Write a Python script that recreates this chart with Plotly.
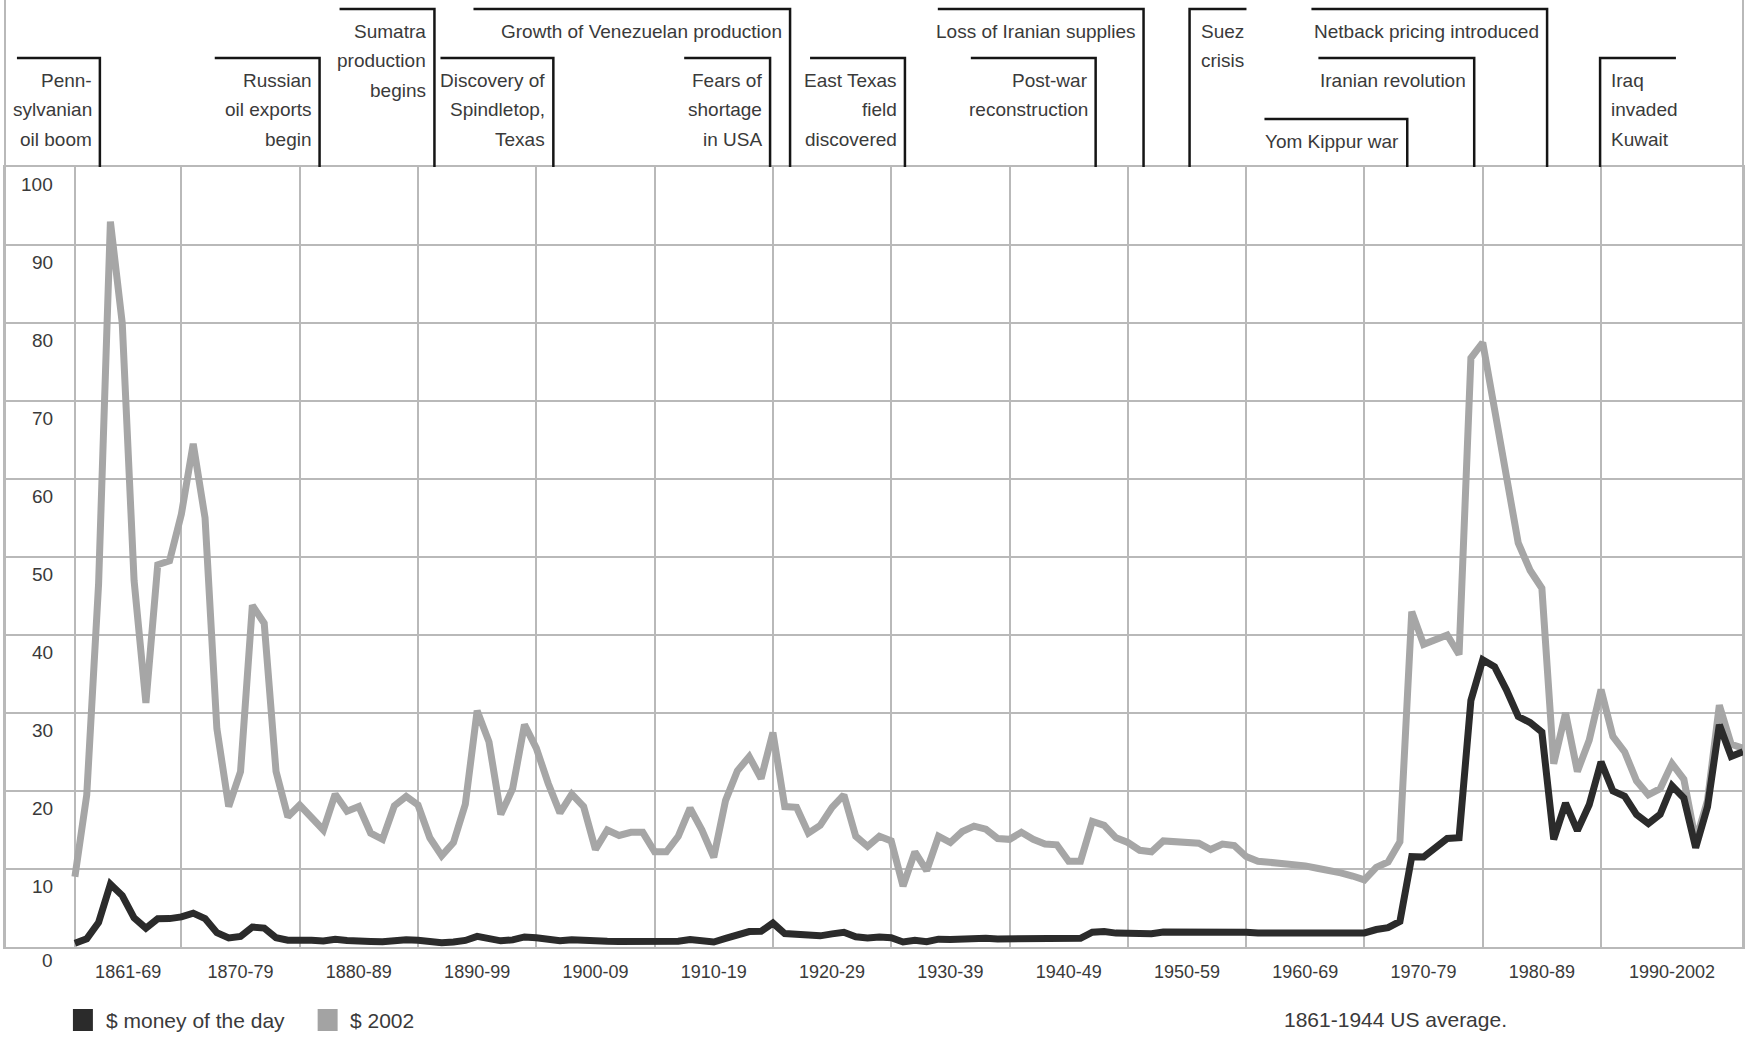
import plotly.graph_objects as go

# ---------------- data ----------------
years = list(range(1861, 2003))

money_of_day = [
    0.49, 1.05, 3.15, 8.06, 6.59, 3.74, 2.41, 3.63, 3.64,
    3.86, 4.34, 3.64, 1.83, 1.17, 1.35, 2.56, 2.42, 1.19, 0.86,
    0.95, 0.86, 0.78, 1.00, 0.84, 0.88, 0.71, 0.67, 0.88, 0.94,
    0.87, 0.67, 0.56, 0.64, 0.84, 1.36, 1.18, 0.79, 0.91, 1.29,
    1.19, 0.96, 0.80, 0.94, 0.86, 0.62, 0.73, 0.72, 0.72, 0.70,
    0.61, 0.61, 0.74, 0.95, 0.81, 0.64, 1.10, 1.56, 1.98, 2.01,
    3.07, 1.73, 1.61, 1.34, 1.43, 1.68, 1.88, 1.30, 1.17, 1.27,
    1.19, 0.65, 0.87, 0.67, 1.00, 0.97, 1.09, 1.18, 1.13, 1.02,
    1.02, 1.14, 1.19, 1.20, 1.21, 1.05, 1.12, 1.90, 1.99, 1.78,
    1.71, 1.71, 1.71, 1.93, 1.93, 1.93, 1.93, 1.90, 2.08, 2.08,
    1.90, 1.80, 1.80, 1.80, 1.80, 1.80, 1.80, 1.80, 1.80, 1.80,
    1.80, 2.24, 2.48, 3.29, 11.58, 11.53, 12.80, 13.92, 14.02, 31.61,
    36.83, 35.93, 32.97, 29.55, 28.78, 27.56, 13.80, 18.44, 14.92, 18.23,
    23.73, 20.00, 19.32, 16.97, 15.82, 17.02, 20.67, 19.09, 12.72, 17.97,
    28.50, 24.44, 25.02,
]

dollars_2002 = [
    9.0, 19.5, 46.5, 93.0, 80.0, 47.0, 31.3, 49.0, 49.5,
    55.5, 64.5, 55.0, 28.0, 18.0, 22.5, 43.8, 41.5, 22.5, 16.7,
    18.2, 16.6, 15.0, 19.6, 17.4, 18.0, 14.6, 13.8, 18.1, 19.3,
    18.2, 14.0, 11.7, 13.4, 18.3, 30.3, 26.3, 17.0, 20.3, 28.5,
    25.5, 21.0, 17.2, 19.6, 18.0, 12.5, 15.0, 14.3, 14.7, 14.7,
    12.2, 12.2, 14.2, 17.8, 15.0, 11.5, 18.8, 22.6, 24.4, 21.6,
    27.5, 18.0, 17.9, 14.6, 15.6, 17.9, 19.5, 14.2, 12.9, 14.2,
    13.6, 7.8, 12.2, 9.8, 14.2, 13.4, 14.8, 15.5, 15.1, 13.9,
    13.8, 14.7, 13.8, 13.2, 13.1, 11.0, 11.0, 16.1, 15.6, 14.0,
    13.4, 12.4, 12.2, 13.6, 13.5, 13.5, 13.3, 12.5, 13.2, 13.0,
    11.6, 11.0, 10.9, 10.7, 10.6, 10.4, 10.1, 9.9, 9.5, 9.1,
    8.6, 10.2, 10.9, 13.5, 43.0, 38.8, 39.5, 40.0, 37.5, 75.5,
    77.5, 69.0, 59.5, 51.8, 48.3, 46.0, 23.5, 30.0, 22.5, 26.5,
    33.0, 27.0, 25.0, 21.3, 19.5, 20.3, 23.5, 21.5, 13.6, 18.8,
    31.0, 26.0, 25.5,
]

decade_bounds = [1861, 1870, 1880, 1890, 1900, 1910, 1920, 1930, 1940,
                 1950, 1960, 1970, 1980, 1990]
decade_labels = ["1861-69", "1870-79", "1880-89", "1890-99", "1900-09",
                 "1910-19", "1920-29", "1930-39", "1940-49", "1950-59",
                 "1960-69", "1970-79", "1980-89", "1990-2002"]
decade_mid = [1865.5, 1875, 1885, 1895, 1905, 1915, 1925, 1935, 1945,
              1955, 1965, 1975, 1985, 1996]
y_ticks = [0, 10, 20, 30, 40, 50, 60, 70, 80, 90, 100]

# events: text lines, arm start, arm end (years), side of the drop, level
event_lines = [
    ["Penn-", "sylvanian", "oil boom"],
    ["Russian", "oil exports", "begin"],
    ["Sumatra", "production", "begins"],
    ["Discovery of", "Spindletop,", "Texas"],
    ["Growth of Venezuelan production"],
    ["Fears of", "shortage", "in USA"],
    ["East Texas", "field", "discovered"],
    ["Loss of Iranian supplies"],
    ["Post-war", "reconstruction"],
    ["Suez", "crisis"],
    ["Netback pricing introduced"],
    ["Iranian revolution"],
    ["Yom Kippur war"],
    ["Iraq", "invaded", "Kuwait"],
]
event_x0 = [1856.10, 1872.82, 1883.37, 1891.90, 1894.69, 1912.50, 1923.14,
            1933.94, 1936.73, 1955.22, 1965.52, 1966.11, 1961.55, 1989.92]
event_x1 = [1863.11, 1881.68, 1891.39, 1901.44, 1921.45, 1919.76, 1931.16,
            1951.33, 1947.28, 1960.03, 1985.44, 1979.28, 1973.62, 1996.33]
event_side = ["r", "r", "r", "r", "r", "r", "r", "r", "r", "l", "r", "r", "r", "l"]
event_level = ["B", "B", "A", "B", "A", "B", "B", "A", "B", "A", "A", "B", "C", "B"]

# ---------------- figure ----------------
W, H = 1747, 1037
ML, MR, MT, MB = 5, 2, 167, 90
PW, PH = W - ML - MR, H - MT - MB
FONT = "Liberation Sans, Arial, Helvetica, sans-serif"
TXT = "#3a3a3a"
GRID = "#b9b9b9"


def py(pix):
    """pixel row -> paper y"""
    return (H - MB - pix) / PH


def px(pix):
    return (pix - ML) / PW


level_y = {"A": py(9), "B": py(58), "C": py(119)}

fig = go.Figure()
fig.add_trace(go.Scatter(x=years, y=dollars_2002, mode="lines", name="$ 2002",
                         line=dict(color="#a6a6a6", width=7), showlegend=False))
fig.add_trace(go.Scatter(x=years, y=money_of_day, mode="lines", name="$ money of the day",
                         line=dict(color="#2b2b2b", width=7), showlegend=False))

shapes = []
annotations = []

# frame extension above plot (left and right borders)
for xp in (0, 1):
    shapes.append(dict(type="line", xref="paper", yref="paper", x0=xp, x1=xp,
                       y0=0, y1=py(0), line=dict(color=GRID, width=2), layer="below"))

# event brackets
for lines, x0, x1, side, lv in zip(event_lines, event_x0, event_x1, event_side, event_level):
    yl = level_y[lv]
    pivot = x1 if side == "r" else x0
    other = x0 if side == "r" else x1
    shapes.append(dict(type="path", xref="x", yref="paper",
                       path=f"M{other},{yl} L{pivot},{yl} L{pivot},1",
                       line=dict(color="#151515", width=2.5)))
    for i, t in enumerate(lines):
        annotations.append(dict(
            x=pivot, y=yl, xref="x", yref="paper", text=t, showarrow=False,
            xanchor="right" if side == "r" else "left", yanchor="middle",
            xshift=-6 if side == "r" else 9, yshift=-(22 + i * 29.5),
            font=dict(family=FONT, size=19, color=TXT)))

# y tick labels (placed just below each grid line)
for v in y_ticks:
    annotations.append(dict(
        x=px(55), y=v, xref="paper", yref="y", text=str(v), showarrow=False,
        xanchor="right", yanchor="middle", yshift=-13 if v == 0 else -17,
        font=dict(family=FONT, size=19, color=TXT)))

# legend
shapes.append(dict(type="rect", xref="paper", yref="paper",
                   x0=px(73), x1=px(93), y0=py(1031), y1=py(1009),
                   fillcolor="#2b2b2b", line=dict(width=0)))
shapes.append(dict(type="rect", xref="paper", yref="paper",
                   x0=px(318), x1=px(338), y0=py(1031), y1=py(1009),
                   fillcolor="#a3a3a3", line=dict(width=0)))
annotations.append(dict(x=px(104), y=py(1020), xref="paper", yref="paper",
                        text="$ money of the day", showarrow=False,
                        xanchor="left", yanchor="middle",
                        font=dict(family=FONT, size=21, color=TXT)))
annotations.append(dict(x=px(348), y=py(1020), xref="paper", yref="paper",
                        text="$ 2002", showarrow=False,
                        xanchor="left", yanchor="middle",
                        font=dict(family=FONT, size=21, color=TXT)))
annotations.append(dict(x=px(1283), y=py(1019), xref="paper", yref="paper",
                        text="1861-1944 US average.", showarrow=False,
                        xanchor="left", yanchor="middle",
                        font=dict(family=FONT, size=21, color=TXT)))

fig.update_layout(
    width=W, height=H,
    margin=dict(l=ML, r=MR, t=MT, b=MB, pad=0),
    paper_bgcolor="white", plot_bgcolor="white",
    showlegend=False,
    shapes=shapes, annotations=annotations,
    xaxis=dict(
        range=[1861 - 70 / 11.845, 2002.0],
        tickmode="array", tickvals=decade_mid, ticktext=decade_labels,
        showgrid=False, zeroline=False,
        ticks="", ticklabelstandoff=7,
        tickfont=dict(family=FONT, size=18, color=TXT),
        showline=True, mirror=True, linecolor=GRID, linewidth=2,
        minor=dict(tickmode="array", tickvals=decade_bounds, showgrid=True,
                   gridcolor=GRID, gridwidth=2, ticks=""),
    ),
    yaxis=dict(
        range=[0, 100], dtick=10, tick0=0,
        showgrid=True, gridcolor=GRID, gridwidth=2,
        zeroline=False, showticklabels=False, ticks="",
        showline=True, mirror=True, linecolor=GRID, linewidth=2,
    ),
)

fig.write_html(
    "out.html",
    config={"displayModeBar": False, "staticPlot": True},
    post_script="document.body.style.margin='0px';document.body.style.overflow='hidden';",
)
